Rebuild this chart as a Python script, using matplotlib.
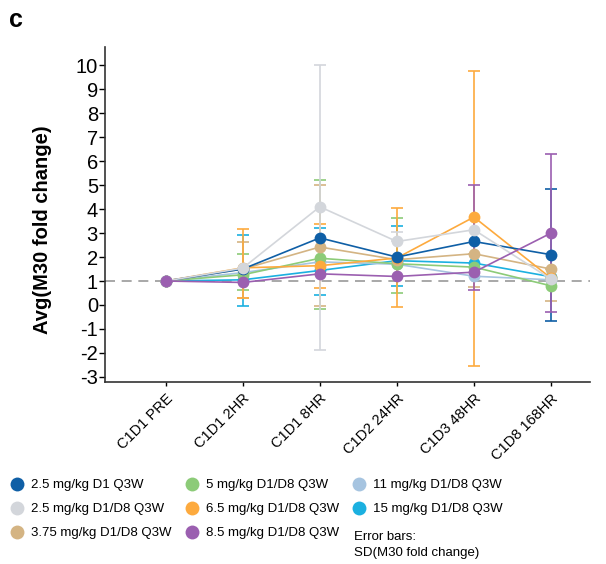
import numpy as np
import matplotlib
matplotlib.use("Agg")
import matplotlib.pyplot as plt
from matplotlib.lines import Line2D

plt.rcParams["font.family"] = ["Liberation Sans", "DejaVu Sans"]
plt.rcParams["axes.unicode_minus"] = False

timepoints = ["C1D1 PRE", "C1D1 2HR", "C1D1 8HR", "C1D2 24HR", "C1D3 48HR", "C1D8 168HR"]

labels = ["2.5 mg/kg D1 Q3W", "2.5 mg/kg D1/D8 Q3W", "3.75 mg/kg D1/D8 Q3W",
          "5 mg/kg D1/D8 Q3W", "6.5 mg/kg D1/D8 Q3W", "8.5 mg/kg D1/D8 Q3W",
          "11 mg/kg D1/D8 Q3W", "15 mg/kg D1/D8 Q3W"]
colors = ["#0F5FA6", "#D3D6DB", "#D4B483", "#8CCB78", "#FDAA3E", "#9B5FB0",
          "#A6C4E0", "#1BB0E0"]

# mean fold change per cohort
dose_25_d1 = [1, 1.50, 2.80, 2.00, 2.65, 2.10]
dose_25 = [1, 1.54, 4.10, 2.65, 3.14, 1.08]
dose_375 = [1, 1.50, 2.42, 1.89, 2.14, 1.50]
dose_5 = [1, 1.26, 1.95, 1.72, 1.58, 0.80]
dose_65 = [1, 1.55, 1.64, 1.96, 3.67, 1.12]
dose_85 = [1, 0.94, 1.30, 1.19, 1.37, 3.00]
dose_11 = [1, 1.35, 1.80, 1.70, 1.20, 1.05]
dose_15 = [1, 1.05, 1.44, 1.85, 1.75, 1.18]

# error bar ends (nan = not visible)
nan = np.nan
lo_25_d1 = [nan, nan, nan, nan, nan, -0.65]
hi_25_d1 = [nan, nan, nan, nan, nan, 4.84]
lo_25 = [nan, nan, -1.87, nan, nan, nan]
hi_25 = [nan, nan, 10.0, 3.03, nan, nan]
lo_375 = [nan, 0.27, -0.06, nan, 0.75, 0.15]
hi_375 = [nan, 2.63, 5.03, nan, nan, nan]
lo_5 = [nan, 0.61, -0.17, 0.52, nan, nan]
hi_5 = [nan, 2.14, 5.23, 3.63, nan, nan]
lo_65 = [nan, 0.27, 0.69, -0.09, -2.53, nan]
hi_65 = [nan, 3.17, 3.39, 4.06, 9.79, nan]
lo_85 = [nan, nan, nan, nan, 0.63, -0.30]
hi_85 = [nan, nan, nan, nan, 5.00, 6.31]
lo_11 = [nan] * 6
hi_11 = [nan] * 6
lo_15 = [nan, -0.03, 0.41, 0.80, nan, nan]
hi_15 = [nan, 2.92, 3.21, 3.28, nan, nan]

means = [dose_25_d1, dose_25, dose_375, dose_5, dose_65, dose_85, dose_11, dose_15]
lows = [lo_25_d1, lo_25, lo_375, lo_5, lo_65, lo_85, lo_11, lo_15]
highs = [hi_25_d1, hi_25, hi_375, hi_5, hi_65, hi_85, hi_11, hi_15]
draw_order = [7, 6, 3, 2, 4, 0, 1, 5]

fig = plt.figure(figsize=(6.06, 5.64), dpi=100)
ax = fig.add_axes([0.173, 0.323, 0.801, 0.594])
x = np.arange(len(timepoints))

ax.axhline(1, color="#9A9A9A", lw=1.2, ls=(0, (6, 4)), zorder=0)

for z, i in enumerate(draw_order):
    m = np.array(means[i], dtype=float)
    lo = np.array(lows[i], dtype=float)
    hi = np.array(highs[i], dtype=float)
    ok = ~np.isnan(lo) | ~np.isnan(hi)
    if ok.any():
        lo_f = np.where(np.isnan(lo), m, lo)
        hi_f = np.where(np.isnan(hi), m, hi)
        err = np.vstack([m[ok] - lo_f[ok], hi_f[ok] - m[ok]])
        ax.errorbar(x[ok], m[ok], yerr=err, fmt="none", ecolor=colors[i],
                    elinewidth=1.2, capsize=4, capthick=1.2, zorder=1 + z * 0.01)
    ax.plot(x, m, color=colors[i], lw=1.2, marker="o", ms=8.5,
            markeredgewidth=0, zorder=3 + z * 0.1)

ax.set_xlim(-0.79, 5.51)
ax.set_ylim(-3.21, 10.78)
ax.set_yticks(range(-3, 11))
ax.set_xticks(x)
ax.set_xticklabels(timepoints, rotation=45, ha="right", rotation_mode="anchor",
                   fontsize=10.5)
ax.tick_params(axis="y", labelsize=14.5, length=4, width=1, pad=1)
ax.tick_params(axis="x", length=3, width=1, pad=4)
for s in ["top", "right"]:
    ax.spines[s].set_visible(False)
for s in ["left", "bottom"]:
    ax.spines[s].set_linewidth(1.2)
    ax.spines[s].set_color("#333333")
ax.set_ylabel("Avg(M30 fold change)", fontsize=14.5, fontweight="bold")
ax.yaxis.set_label_coords(-0.108, 0.454)

fig.text(0.015, 0.985, "c", fontsize=18, fontweight="bold", va="top")

handles = [Line2D([], [], ls="none", marker="o", ms=10, color=c, markeredgewidth=0)
           for c in colors]
fig.legend(handles, labels, ncol=3, loc="upper left", bbox_to_anchor=(0.007, 0.160),
           frameon=False, fontsize=9.5, handletextpad=0.46, columnspacing=0.9,
           labelspacing=0.9, handlelength=1.2, borderaxespad=0)
fig.text(0.584, 0.033, "Error bars:\nSD(M30 fold change)", fontsize=9.5,
         va="center", ha="left", linespacing=1.45)

fig.savefig("out.png", dpi=100)
